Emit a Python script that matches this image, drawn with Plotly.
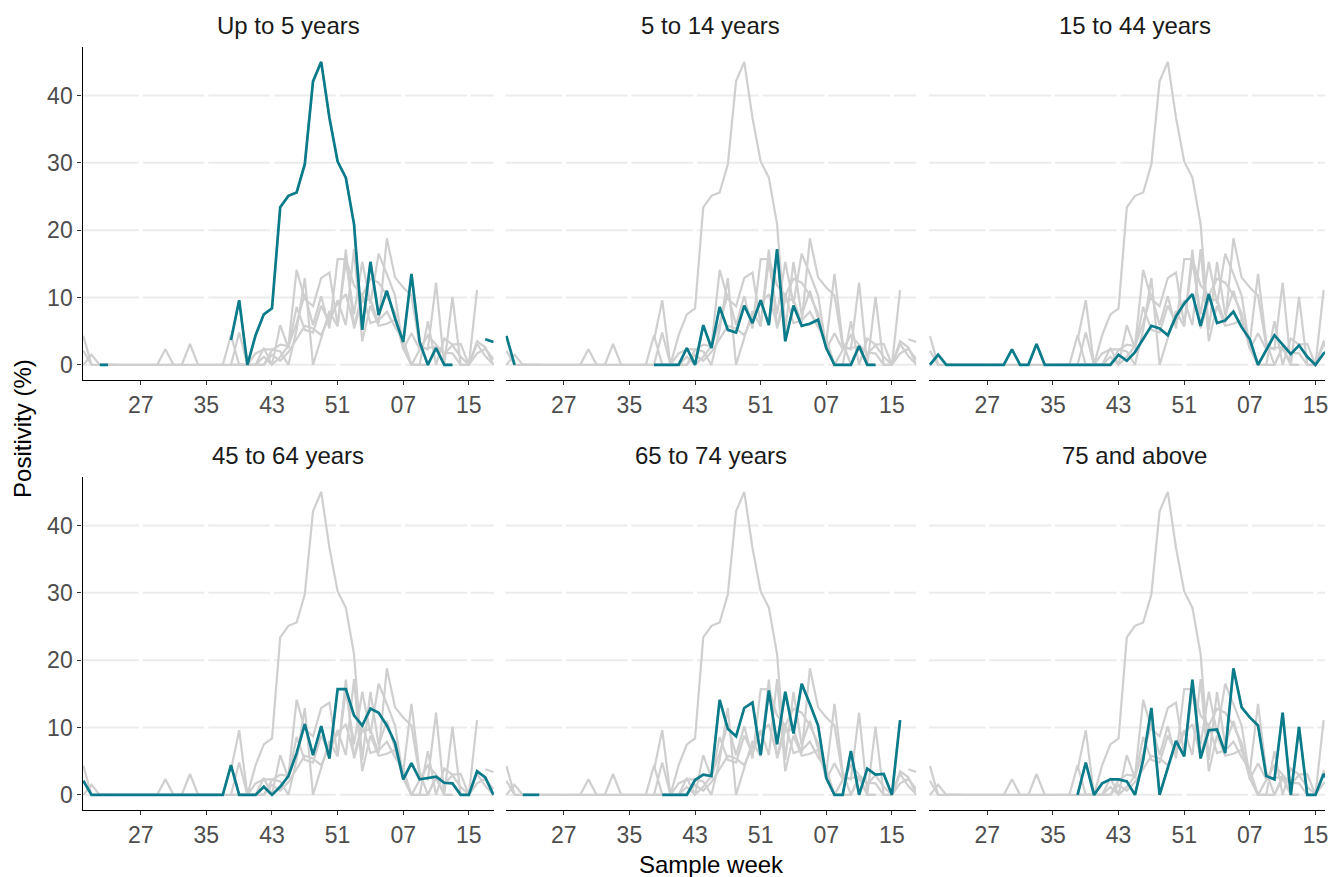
import plotly.graph_objects as go

# ---------------- data ----------------
weeks = [str(w) for w in range(20, 53)] + [f"{w:02d}" for w in range(1, 19)]
tick_weeks = ["27", "35", "43", "51", "07", "15"]
groups = ["Up to 5 years", "5 to 14 years", "15 to 44 years",
          "45 to 64 years", "65 to 74 years", "75 and above"]

N = None
up_to_5 = [N, N, 0, 0, N, N, N, N, N, N, N, N, N, N, N, N, N, N,
           3.7, 9.6, 0, 4.4, 7.5, 8.4, 23.4, 25.1, 25.6, 29.8, 42.1, 45.0,
           36.7, 30.2, 27.8, 20.9, 5.2, 15.3, 7.4, 11.0, 6.9, 3.4, 13.5, 3.4,
           0, 2.5, 0, 0, N, N, N, 3.8, 3.4]
age_5_14 = [4.3, 0, N, N, N, N, N, N, N, N, N, N, N, N, N, N, N, N,
            0, 0, 0, 0, 2.5, 0, 5.9, 2.5, 8.6, 5.2, 4.8, 8.8,
            6.2, 9.6, 5.9, 17.2, 3.5, 8.8, 5.8, 6.1, 6.7, 2.5, 0, 0,
            0, 2.8, 0, 0, N, N, N, N, N]
age_15_44 = [0, 1.5, 0, 0, 0, 0, 0, 0, 0, 0, 2.3, 0, 0, 3.1, 0, 0, 0, 0,
             0, 0, 0, 0, 0, 1.5, 0.6, 1.9, 3.8, 5.8, 5.4, 4.4,
             7.2, 9.1, 10.5, 5.8, 10.5, 6.2, 6.6, 7.9, 5.6, 3.8, 0, 2.2,
             4.4, 3.0, 1.6, 2.9, 1.2, 0, 1.7, 2.4, 0.8]
age_45_64 = [2.1, 0, 0, 0, 0, 0, 0, 0, 0, 0, 0, 0, 0, 0, 0, 0, 0, 0,
             4.4, 0, 0, 0, 1.2, 0, 1.2, 2.8, 6.2, 10.5, 5.9, 10.2,
             5.4, 15.7, 15.7, 11.8, 10.3, 12.8, 12.2, 10.3, 7.7, 2.3, 4.7, 2.3,
             2.5, 2.7, 1.8, 1.7, 0, 0, 3.5, 2.6, 0]
age_65_74 = [N, N, 0, 0, 0, N, N, N, N, N, N, N, N, N, N, N, N, N,
             N, 0, 0, 0, 0, 2.2, 3.0, 2.8, 14.1, 9.8, 8.7, 12.9,
             13.7, 5.9, 15.5, 7.5, 15.3, 9.1, 16.5, 13.5, 10.3, 2.5, 0, 0,
             6.5, 0, 3.9, 3.0, 3.1, 0, 11.1, N, N]
age_75_plus = [N, N, N, N, N, N, N, N, N, N, N, N, N, N, N, N, N, N,
               0, 4.8, 0, 1.7, 2.3, 2.3, 2.0, 0, 5.2, 12.9, 0, 4.2,
               8.0, 5.7, 17.1, 5.4, 9.6, 9.7, 6.2, 18.8, 13.0, 11.5, 10.3, 2.8,
               2.3, 12.2, 0, 10.1, 0, 0, 3.1, 1.3, 0]
series = [up_to_5, age_5_14, age_15_44, age_45_64, age_65_74, age_75_plus]
y_ticks = [0, 10, 20, 30, 40]

# ---------------- layout geometry ----------------
W, H = 1328, 877
FONT = "Liberation Sans, Arial, Helvetica, sans-serif"
TEAL = "#0A7B8A"
GREY = "#CFCFCF"

col_px = [(82.7, 495.0), (506.7, 918.3), (931.2, 1343.0)]
row_px = [(46.7, 380.0), (476.7, 810.0)]
px_per_week = (col_px[0][1] - col_px[0][0]) / 50.15
x_left = -0.1

x_idx = list(range(len(weeks)))
tickvals = [weeks.index(w) for w in tick_weeks]

fig = go.Figure()
layout = dict(width=W, height=H, margin=dict(l=0, r=0, t=0, b=0),
              paper_bgcolor="white", plot_bgcolor="white", showlegend=False,
              font=dict(family=FONT, color="#1A1A1A"))
shapes, annotations = [], []

for k, name in enumerate(groups):
    r, c = divmod(k, 3)
    ax = "" if k == 0 else str(k + 1)
    xa, ya = "x" + ax, "y" + ax
    x0p, x1p = col_px[c]
    x1_vis = min(x1p, W)
    y0p, y1p = row_px[r]
    x_right = x_left + (x1_vis - x0p) / px_per_week
    layout["xaxis" + ax] = dict(
        domain=[x0p / W, x1_vis / W], range=[x_left, x_right], anchor=ya,
        showgrid=False, zeroline=False, showline=True, linecolor="black",
        linewidth=1.4, ticks="outside", ticklen=4, tickwidth=1.2,
        tickcolor="#333333", tickvals=tickvals, ticktext=tick_weeks,
        ticklabeloverflow="allow",
        tickfont=dict(family=FONT, size=23, color="#4D4D4D"), fixedrange=True)
    layout["yaxis" + ax] = dict(
        domain=[1 - y1p / H, 1 - y0p / H], range=[-2.25, 47.25], anchor=xa,
        showgrid=False, zeroline=False,
        showline=(c == 0), linecolor="black", linewidth=1.4,
        ticks="outside" if c == 0 else "", ticklen=4, tickwidth=1.2,
        tickcolor="#333333", tickvals=y_ticks,
        showticklabels=(c == 0),
        tickfont=dict(family=FONT, size=23, color="#4D4D4D"), fixedrange=True)

    for yv in y_ticks:
        shapes.append(dict(type="line", xref=xa + " domain", yref=ya,
                           x0=0, x1=1, y0=yv, y1=yv, layer="below",
                           line=dict(color="#EBEBEB", width=2)))
    for tv in tickvals:
        shapes.append(dict(type="line", xref=xa, yref=ya + " domain",
                           x0=tv, x1=tv, y0=0, y1=1, layer="below",
                           line=dict(color="white", width=4)))

    for s in series:
        fig.add_trace(go.Scatter(x=x_idx, y=s, mode="lines", xaxis=xa, yaxis=ya,
                                 line=dict(color=GREY, width=2.2),
                                 connectgaps=False, hoverinfo="skip"))
    fig.add_trace(go.Scatter(x=x_idx, y=series[k], mode="lines", xaxis=xa,
                             yaxis=ya, line=dict(color=TEAL, width=2.7),
                             connectgaps=False, name=name))

    annotations.append(dict(text=name, xref="paper", yref="paper",
                            x=(x0p + x1p) / 2 / W, y=1 - (y0p - 21) / H,
                            xanchor="center", yanchor="middle", showarrow=False,
                            font=dict(family=FONT, size=24, color="#1A1A1A")))

annotations.append(dict(text="Sample week", xref="paper", yref="paper",
                        x=(col_px[0][0] + col_px[2][1]) / 2 / W, y=1 - 864 / H,
                        xanchor="center", yanchor="middle", showarrow=False,
                        font=dict(family=FONT, size=24, color="black")))
annotations.append(dict(text="Positivity (%)", xref="paper", yref="paper",
                        x=22 / W, y=1 - 428 / H, textangle=-90,
                        xanchor="center", yanchor="middle", showarrow=False,
                        font=dict(family=FONT, size=24, color="black")))

layout["shapes"] = shapes
layout["annotations"] = annotations
fig.update_layout(**layout)
fig.write_html("out.html", config={"displayModeBar": False},
               post_script="document.body.style.margin='0';"
                           "document.body.style.overflow='hidden';")
